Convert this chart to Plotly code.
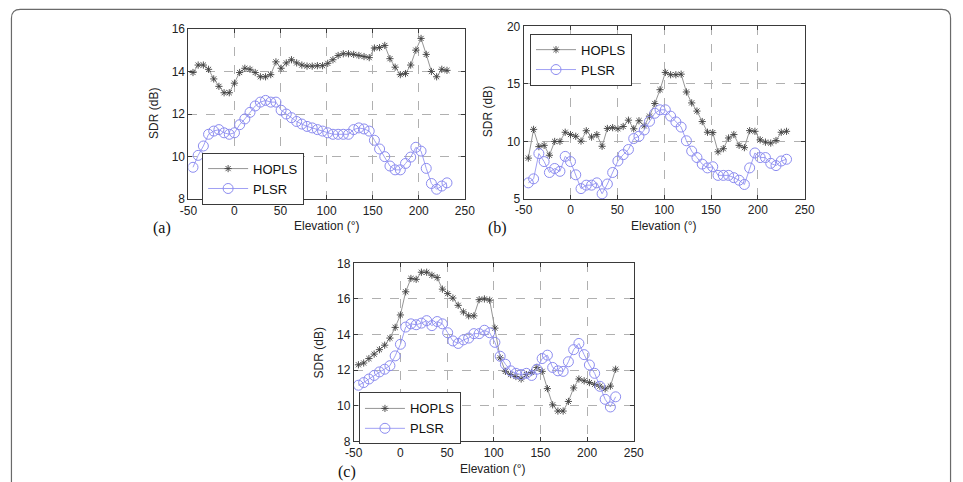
import plotly.graph_objects as go

# Elevation grid (degrees)
elevation = [-45, -39.375, -33.75, -28.125, -22.5, -16.875, -11.25, -5.625, 0, 5.625,
             11.25, 16.875, 22.5, 28.125, 33.75, 39.375, 45, 50.625, 56.25, 61.875,
             67.5, 73.125, 78.75, 84.375, 90, 95.625, 101.25, 106.875, 112.5, 118.125,
             123.75, 129.375, 135, 140.625, 146.25, 151.875, 157.5, 163.125, 168.75, 174.375,
             180, 185.625, 191.25, 196.875, 202.5, 208.125, 213.75, 219.375, 225, 230.625]

a_hopls = [13.95, 14.3, 14.3, 14.1, 13.65, 13.3, 13.0, 13.0, 13.45, 13.95,
           14.15, 14.1, 13.95, 13.75, 13.75, 13.85, 14.45, 14.15, 14.4, 14.55,
           14.4, 14.3, 14.25, 14.25, 14.27, 14.27, 14.38, 14.55, 14.75, 14.83,
           14.83, 14.8, 14.75, 14.7, 14.65, 15.1, 15.12, 15.22, 14.6, 14.2,
           13.85, 13.9, 14.3, 15.0, 15.55, 14.8, 14.0, 13.75, 14.1, 14.05]
a_plsr = [9.5, 10.06, 10.5, 11.05, 11.2, 11.27, 11.12, 11.05, 11.12, 11.5,
          11.77, 12.08, 12.38, 12.56, 12.64, 12.56, 12.56, 12.18, 12.0, 11.83,
          11.65, 11.53, 11.42, 11.35, 11.27, 11.2, 11.12, 11.05, 11.05, 11.05,
          11.05, 11.27, 11.35, 11.3, 11.2, 10.77, 10.36, 10.0, 9.56, 9.38,
          9.38, 9.68, 9.98, 10.44, 10.26, 9.45, 8.74, 8.47, 8.62, 8.77]

b_hopls = [8.55, 11.05, 9.55, 9.66, 8.8, 10.0, 10.0, 10.8, 10.6, 10.45,
           10.03, 10.93, 10.38, 10.6, 9.58, 11.13, 11.2, 11.1, 11.3, 11.85,
           11.1, 11.8, 11.35, 12.2, 13.3, 14.5, 16.0, 15.8, 15.8, 15.85,
           14.3, 13.35, 12.64, 11.73, 10.8, 10.77, 9.1, 9.37, 10.3, 10.6,
           9.66, 9.46, 10.94, 10.88, 10.14, 9.94, 9.86, 10.08, 10.8, 10.88]
b_plsr = [6.4, 6.75, 8.95, 8.25, 7.3, 7.65, 7.4, 8.7, 8.25, 7.1,
          5.9, 6.2, 6.2, 6.4, 5.45, 6.3, 7.3, 8.3, 8.85, 9.3,
          10.25, 10.45, 11.0, 11.75, 12.45, 12.75, 12.75, 12.2, 11.7, 11.25,
          10.06, 9.16, 8.6, 8.03, 7.7, 7.8, 7.05, 7.05, 7.05, 6.85,
          6.63, 6.26, 7.7, 9.0, 8.6, 8.6, 8.1, 7.9, 8.3, 8.45]

c_hopls = [12.3, 12.4, 12.65, 12.9, 13.15, 13.4, 13.8, 14.4, 15.1, 16.4,
           17.15, 17.1, 17.5, 17.5, 17.33, 17.2, 16.55, 16.3, 16.05, 15.64,
           15.27, 15.05, 15.05, 15.96, 16.0, 15.93, 14.36, 12.69, 11.93, 11.75,
           11.64, 11.5, 11.75, 11.87, 12.15, 11.93, 10.96, 10.05, 9.7, 9.7,
           10.24, 11.0, 11.5, 11.4, 11.3, 11.2, 11.1, 10.95, 11.1, 12.05]
c_plsr = [11.15, 11.3, 11.5, 11.7, 11.9, 12.05, 12.25, 12.8, 13.45, 14.42,
          14.6, 14.55, 14.64, 14.78, 14.5, 14.73, 14.6, 14.1, 13.64, 13.5,
          13.7, 13.8, 14.05, 14.05, 14.24, 14.1, 13.56, 12.78, 12.33, 11.96,
          11.82, 11.75, 11.82, 11.7, 12.05, 12.65, 12.84, 12.15, 11.96, 11.93,
          12.47, 13.15, 13.5, 12.87, 12.29, 11.82, 11.09, 10.36, 9.93, 10.5]

series_names = ["HOPLS", "PLSR"]
x_tickvals = [-50, 0, 50, 100, 150, 200, 250]
x_ticktext = ["-50", "0", "50", "100", "150", "200", "250"]
panel_labels = ["(a)", "(b)", "(c)"]
x_title = "Elevation (°)"
y_title = "SDR (dB)"

W, H = 963, 482
def dx(px):
    return px / W
def dy(py):
    return 1 - py / H

panels = [
    dict(data=(a_hopls, a_plsr), xr=(183, 465), yr=(22.5, 198), yrange=[8, 16], dtick=2,
         legend=(197, 150), lab=(156, 228), xt=(324, 226), yt=(148, 110)),
    dict(data=(b_hopls, b_plsr), xr=(525, 811.7), yr=(20, 197.7), yrange=[5, 20], dtick=5,
         legend=(531.5, 27.5), lab=(498, 228), xt=(668, 226), yt=(489, 108)),
    dict(data=(c_hopls, c_plsr), xr=(351.7, 637.3), yr=(264, 447.3), yrange=[8, 18], dtick=2,
         legend=(357, 397), lab=(345, 479), xt=(494, 476), yt=(316, 356)),
]

fig = go.Figure()
font = "Liberation Sans, Arial, sans-serif"
annotations = []
layout = {}
for i, p in enumerate(panels):
    n = "" if i == 0 else str(i + 1)
    lg = "legend" + n
    h, pl = p["data"]
    fig.add_trace(go.Scatter(
        x=elevation, y=h, mode="lines+markers", name=series_names[0],
        xaxis="x" + n, yaxis="y" + n, legend=lg,
        line=dict(color="#959595", width=1),
        marker=dict(symbol="asterisk-open", size=6, color="#404040",
                    line=dict(color="#404040", width=0.9))))
    fig.add_trace(go.Scatter(
        x=elevation, y=pl, mode="lines+markers", name=series_names[1],
        xaxis="x" + n, yaxis="y" + n, legend=lg,
        line=dict(color="#a0a0f4", width=1),
        marker=dict(symbol="circle-open", size=10, color="#8c8cf0",
                    line=dict(color="#8c8cf0", width=1))))
    common = dict(showline=True, linecolor="#3a3a3a", linewidth=1, mirror="ticks",
                  ticks="inside", ticklen=4, tickcolor="#3a3a3a",
                  showgrid=True, gridcolor="#b0b0b0", griddash="dash", gridwidth=1,
                  zeroline=False, tickfont=dict(family=font, size=12, color="#222"))
    layout["xaxis" + n] = dict(common, domain=[dx(p["xr"][0]), dx(p["xr"][1])],
                               range=[-50, 250], tickvals=x_tickvals,
                               ticktext=x_ticktext, anchor="y" + n)
    layout["yaxis" + n] = dict(common, domain=[dy(p["yr"][1]), dy(p["yr"][0])],
                               range=p["yrange"], dtick=p["dtick"], tick0=0,
                               anchor="x" + n)
    layout[lg] = dict(x=dx(p["legend"][0]), y=dy(p["legend"][1]), xanchor="left",
                      yanchor="top", xref="paper", yref="paper",
                      bgcolor="white", bordercolor="#3a3a3a", borderwidth=1,
                      font=dict(family=font, size=13, color="#111"),
                      itemwidth=40, tracegroupgap=0)
    annotations.append(dict(text=panel_labels[i], x=dx(p["lab"][0]), y=dy(p["lab"][1]),
                            xref="paper", yref="paper", showarrow=False,
                            xanchor="center", yanchor="middle",
                            font=dict(family="Liberation Serif, Times New Roman, serif",
                                      size=16, color="#111")))
    annotations.append(dict(text=x_title, x=dx(p["xt"][0]), y=dy(p["xt"][1]),
                            xref="paper", yref="paper", showarrow=False,
                            xanchor="center", yanchor="middle",
                            font=dict(family=font, size=12, color="#222")))
    annotations.append(dict(text=y_title, x=dx(p["yt"][0]), y=dy(p["yt"][1]),
                            xref="paper", yref="paper", showarrow=False, textangle=-90,
                            xanchor="center", yanchor="middle",
                            font=dict(family=font, size=12, color="#222")))

# rounded outer frame
l, r, t, b = dx(2.5), dx(960.5), dy(2.5), dy(490)
rx, ry = dx(9), 9 / H
frame = (f"M {l},{b} L {l},{t - ry} Q {l},{t} {l + rx},{t} "
         f"L {r - rx},{t} Q {r},{t} {r},{t - ry} L {r},{b}")

fig.update_layout(
    width=W, height=H, margin=dict(l=0, r=0, t=0, b=0),
    paper_bgcolor="white", plot_bgcolor="white",
    showlegend=True, annotations=annotations,
    shapes=[dict(type="path", path=frame, xref="paper", yref="paper",
                 line=dict(color="#6a6a6a", width=1.2))],
    **layout)

fig.write_html("out.html")
